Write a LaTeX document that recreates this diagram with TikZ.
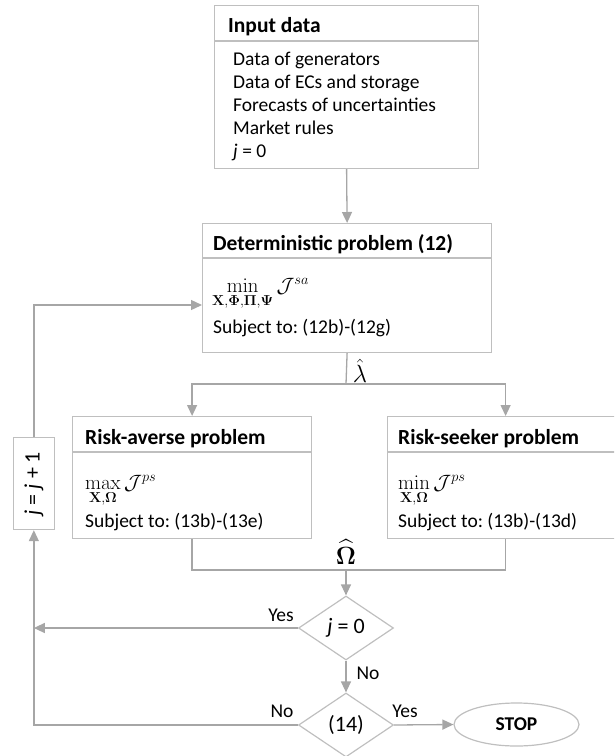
\documentclass[tikz,border=0pt]{standalone}
\usepackage[no-math]{fontspec}
\setmainfont{Carlito}
\usepackage{amsmath}
\usetikzlibrary{arrows.meta,shapes.geometric,calc}
\definecolor{boxc}{HTML}{BFBFBF}
\definecolor{arrc}{HTML}{A6A6A6}
\frenchspacing
\begin{document}
\begin{tikzpicture}[x=1pt,y=-1pt,
  every node/.style={font=\fontsize{19.5}{23}\selectfont},
  boxnode/.style={draw=boxc,line width=1.2pt,inner sep=0pt,anchor=north west},
  sepline/.style={draw=boxc,line width=1.2pt},
  txt/.style={inner sep=0pt,anchor=base west},
  head/.style={inner sep=0pt,anchor=base west,font=\fontsize{21.5}{25}\selectfont\bfseries},
  lab/.style={inner sep=0pt},
  conn/.style={draw=arrc,line width=1.3pt},
  arr/.style={conn,-{Triangle[length=11pt,width=10pt]}},
  dia/.style={diamond,draw=boxc,line width=1.2pt,minimum width=95pt,minimum height=64pt,aspect=1.48,inner sep=0pt,font=\fontsize{22}{25}\selectfont}]
\useasboundingbox (0,0) rectangle (614,756);
\clip (0,0) rectangle (614,756);
% Input data box
\node[boxnode,minimum width=264pt,minimum height=163pt] (in) at (214,5) {};
\draw[sepline] ($(in.north west)+(0,36)$) -- ($(in.north east)+(0,36)$);
\node[head] (inh) at (228,32) {Input data};
\node[txt] (in1) at (233,65) {Data of generators};
\node[txt] (in2) at (233,88) {Data of ECs and storage};
\node[txt] (in3) at (233,111) {Forecasts of uncertainties};
\node[txt] (in4) at (233,134) {Market rules};
\node[txt] (in5) at (233,157) {\textit{j} = 0};
% Deterministic box
\node[boxnode,minimum width=289pt,minimum height=129pt] (det) at (202,223) {};
\draw[sepline] ($(det.north west)+(0,35)$) -- ($(det.north east)+(0,35)$);
\node[head] (deth) at (213,250) {Deterministic problem (12)};
\node[txt] (detf) at (212,292) {$\min\limits_{\mathbf{X},\mathbf{\Phi},\mathbf{\Pi},\mathbf{\Psi}}\mathcal{J}^{sa}$};
\node[txt] (dets) at (213,333) {Subject to: (12b)-(12g)};
% Risk-averse box
\node[boxnode,minimum width=239pt,minimum height=122pt] (ra) at (72,416) {};
\draw[sepline] ($(ra.north west)+(0,36)$) -- ($(ra.north east)+(0,36)$);
\node[head] (rah) at (85,444) {Risk-averse problem};
\node[txt] (raf) at (85,489) {$\max\limits_{\mathbf{X},\mathbf{\Omega}}\mathcal{J}^{ps}$};
\node[txt] (ras) at (85,527) {Subject to: (13b)-(13e)};
% Risk-seeker box
\node[boxnode,minimum width=236pt,minimum height=122pt] (rs) at (387,416) {};
\draw[sepline] ($(rs.north west)+(0,36)$) -- ($(rs.north east)+(0,36)$);
\node[head] (rsh) at (398,444) {Risk-seeker problem};
\node[txt] (rsf) at (398,489) {$\min\limits_{\mathbf{X},\mathbf{\Omega}}\mathcal{J}^{ps}$};
\node[txt] (rss) at (398,527) {Subject to: (13b)-(13d)};
% j = j + 1 box
\node[boxnode,minimum width=41.5pt,minimum height=92pt] (jb) at (12.5,437) {};
\node[lab,rotate=90,font=\fontsize{22}{25}\selectfont] (jbt) at (jb.center) {\textit{j} = \textit{j} + 1};
% Diamonds and stop
\node[dia] (d1) at (346,628) {\textit{j} = 0};
\node[dia] (d2) at (346,725) {(14)};
\node[ellipse,draw=boxc,line width=1.2pt,minimum width=125pt,minimum height=43pt,inner sep=0pt,font=\fontsize{19.5}{23}\selectfont\bfseries] (stop) at (516.5,724.5) {STOP};
% coordinates
\coordinate (split) at (346,384);
\coordinate (join) at (346,570);
\coordinate (detin) at (202,305);
% connectors
\draw[arr] (in.south) -- (det.north);
\draw[conn] (det.south) -- (split);
\draw[arr] (split) -| (ra.north);
\draw[arr] (split) -| (rs.north);
\draw[conn] (ra.south) |- (join) -| (rs.south);
\draw[arr] (join) -- (d1.north);
\draw[arr] (d1.west) -- (d1.west -| jb.south);
\draw[arr] (d1.south) -- (d2.north);
\draw[arr] (d2.west) -| (jb.south);
\draw[arr] (jb.north) |- (detin);
\draw[arr] (d2.east) -- (stop.west);
% labels
\node[lab,font=\fontsize{26}{28}\selectfont] (lam) at (360,371) {$\hat{\lambda}$};
\node[lab,font=\fontsize{26}{28}\selectfont] (om) at (346,552) {$\widehat{\mathbf{\Omega}}$};
\node[lab] (yes1) at (281,615) {Yes};
\node[lab] (no1) at (368,673) {No};
\node[lab] (no2) at (282,711) {No};
\node[lab] (yes2) at (405,711) {Yes};
\end{tikzpicture}
\end{document}
